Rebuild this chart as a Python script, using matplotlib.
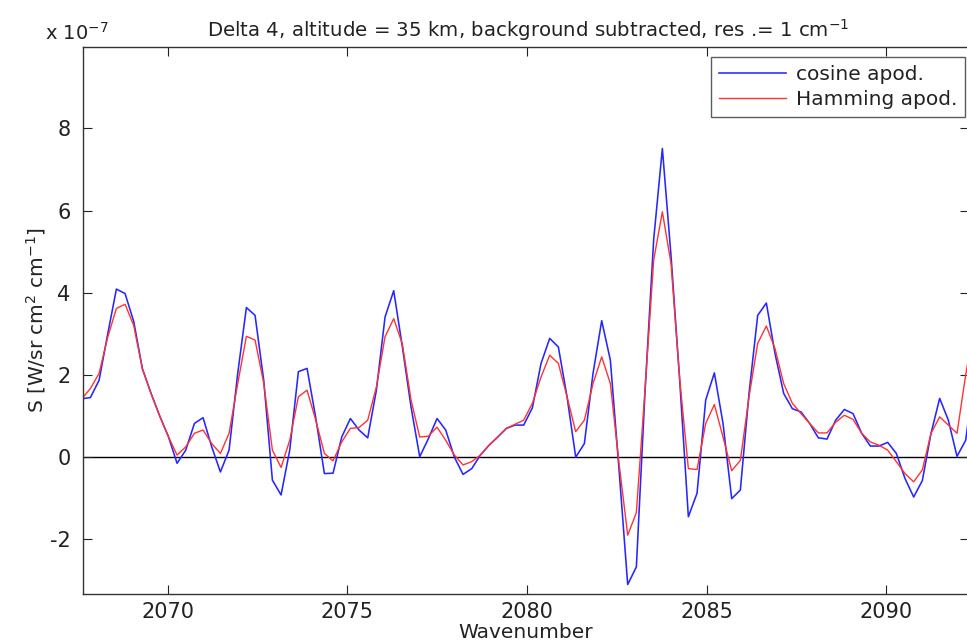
import numpy as np
import matplotlib
matplotlib.use("Agg")
import matplotlib.pyplot as plt

plt.rcParams['font.family'] = ['DejaVu Sans']
plt.rcParams['axes.unicode_minus'] = False

# --- data (values in units of 1e-7 W/sr cm^2 cm^-1) ---
wn_start = 2067.605
wn_step = 0.2412
cosine = [1.42, 1.45, 1.87, 3.00, 4.09, 3.98, 3.30, 2.15, 1.55, 1.00,
          0.50, -0.15, 0.17, 0.82, 0.96, 0.25, -0.36, 0.17, 2.04, 3.64,
          3.45, 1.87, -0.56, -0.92, 0.17, 2.08, 2.16, 0.96, -0.40, -0.39,
          0.49, 0.94, 0.66, 0.47, 1.63, 3.41, 4.05, 2.68, 1.22, 0.01,
          0.45, 0.94, 0.66, 0.00, -0.42, -0.28, 0.05, 0.29, 0.49, 0.70,
          0.78, 0.78, 1.20, 2.28, 2.89, 2.68, 1.47, 0.00, 0.33, 2.04,
          3.32, 2.36, -0.30, -3.10, -2.67, 1.60, 5.30, 7.51, 4.90, 1.87,
          -1.45, -0.88, 1.39, 2.05, 0.82, -1.01, -0.80, 1.55, 3.45, 3.75,
          2.52, 1.55, 1.18, 1.10, 0.82, 0.47, 0.44, 0.90, 1.16, 1.06,
          0.58, 0.27, 0.27, 0.36, 0.09, -0.52, -0.97, -0.57, 0.58, 1.43,
          0.90, 0.02, 0.41, 2.00]
hamming = [1.42, 1.67, 2.04, 2.92, 3.62, 3.72, 3.20, 2.15, 1.55, 1.00,
           0.50, 0.05, 0.25, 0.58, 0.66, 0.33, 0.09, 0.58, 1.79, 2.94,
           2.85, 1.80, 0.17, -0.25, 0.41, 1.47, 1.63, 0.90, 0.09, -0.09,
           0.37, 0.70, 0.72, 0.90, 1.71, 2.93, 3.37, 2.75, 1.39, 0.49,
           0.51, 0.73, 0.41, 0.05, -0.19, -0.11, 0.05, 0.29, 0.49, 0.70,
           0.80, 0.90, 1.31, 1.95, 2.48, 2.28, 1.47, 0.62, 0.90, 1.79,
           2.44, 1.79, -0.15, -1.90, -1.35, 1.65, 4.80, 5.97, 4.71, 1.90,
           -0.28, -0.30, 0.82, 1.28, 0.49, -0.33, -0.08, 1.47, 2.77, 3.19,
           2.64, 1.79, 1.31, 1.06, 0.82, 0.59, 0.59, 0.85, 1.02, 0.92,
           0.58, 0.37, 0.29, 0.17, -0.11, -0.40, -0.60, -0.31, 0.58, 0.98,
           0.78, 0.58, 2.00, 3.20]
wavenumber = wn_start + wn_step * np.arange(len(cosine))
xticks = [2070, 2075, 2080, 2085, 2090]
yticks = [-2, 0, 2, 4, 6, 8]
series_labels = ["cosine apod.", "Hamming apod."]

W, H = 967, 643
fig = plt.figure(figsize=(W / 100, H / 100), dpi=100)
ax = fig.add_axes([83 / W, (H - 594) / H, (969 - 83) / W, (594 - 47) / H])

ax.plot(wavenumber, cosine, color=(0.15, 0.15, 1.0), lw=1.15, label=series_labels[0])
ax.plot(wavenumber, hamming, color=(1.0, 0.2, 0.2), lw=1.0, label=series_labels[1])
ax.axhline(0, color='black', lw=1.0, zorder=1)

ax.set_xlim(2067.64, 2092.30)
ax.set_ylim(-3.33, 9.98)
ax.set_xticks(xticks)
ax.set_yticks(yticks)
ax.tick_params(direction='in', top=True, right=True, length=6.5, width=0.8,
               labelsize=15, colors='#222222')
ax.tick_params(axis='x', pad=6)
ax.tick_params(axis='y', pad=9)
for s in ax.spines.values():
    s.set_color('#333333')
    s.set_linewidth(1.0)

txt = '#222222'
fig.text(45 / W, 1 - 33 / H, r'x 10$^{-7}$', fontsize=14, color=txt, va='center', ha='left')
fig.text(528 / W, 1 - 30 / H, r'Delta 4, altitude = 35 km, background subtracted, res .= 1 cm$^{-1}$',
         fontsize=14.2, color=txt, ha='center', va='center')
fig.text(526 / W, 1.5 / H, 'Wavenumber', fontsize=14.5, color=txt, ha='center', va='bottom')
ax.set_ylabel(r'S [W/sr cm$^2$ cm$^{-1}$]', fontsize=14.5, color=txt, labelpad=1)

leg = ax.legend(loc='upper right', bbox_to_anchor=(965 / W, 1 - 57 / H),
                bbox_transform=fig.transFigure, fontsize=14.5, frameon=True,
                fancybox=False, edgecolor='#333333', borderpad=0.4,
                handlelength=3.3, handletextpad=0.5, labelspacing=0.3,
                borderaxespad=0)
leg.get_frame().set_linewidth(1.0)
for t in leg.get_texts():
    t.set_color(txt)

fig.savefig('out.png', dpi=100)
